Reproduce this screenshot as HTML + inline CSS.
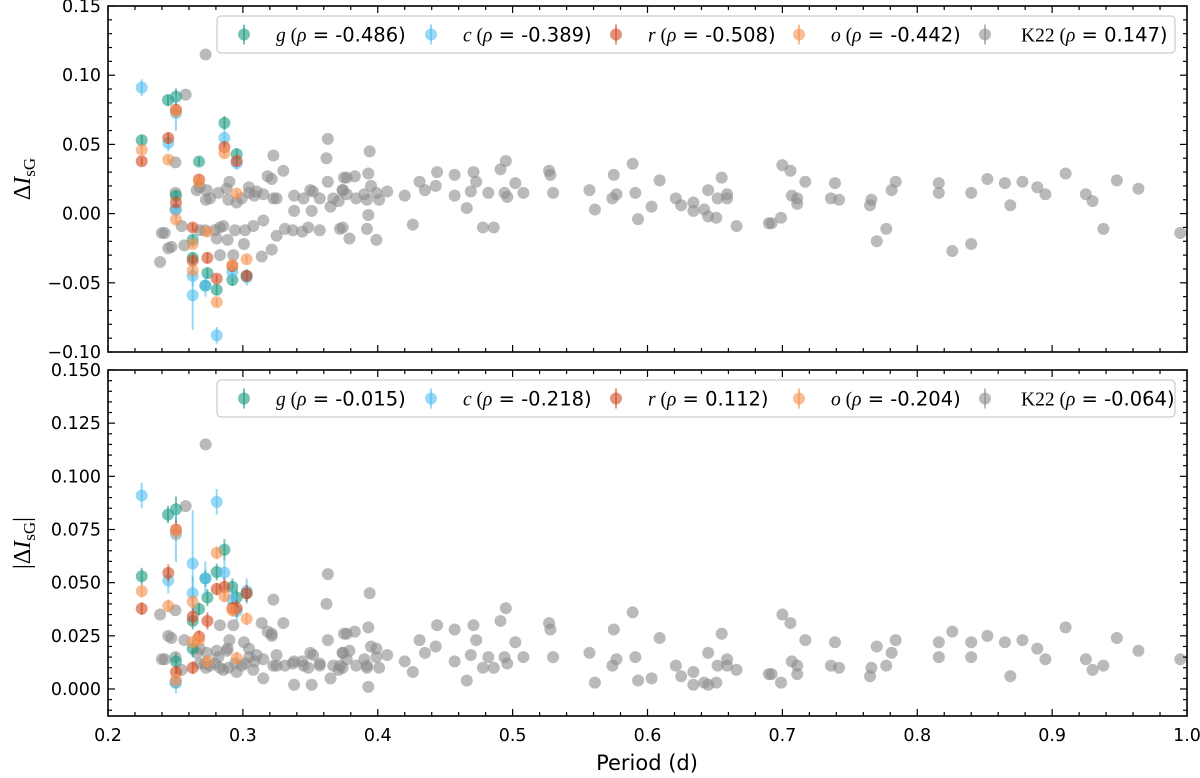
<!DOCTYPE html>
<html><head><meta charset="utf-8"><style>
body{margin:0;background:#fff;}
svg{display:block;font-family:"DejaVu Sans","Liberation Sans",sans-serif;}
</style></head><body>
<svg id="chart" width="1200" height="778"></svg>
<script>
const gP=[0.225,0.2445,0.2504,0.2504,0.2628,0.2628,0.2675,0.2737,0.2722,0.2806,0.2863,0.2922,0.2954,0.3028];
const gV=[0.053,0.082,0.0845,0.013,-0.019,-0.032,0.0376,-0.043,-0.052,-0.055,0.0655,-0.048,0.043,-0.045];
const gE=[0.004,0.004,0.006,0.004,0.004,0.004,0.003,0.004,0.004,0.004,0.005,0.004,0.004,0.004];
const cP=[0.225,0.2447,0.2504,0.2504,0.2628,0.2628,0.2722,0.2806,0.2863,0.2922,0.2954,0.3028];
const cV=[0.091,0.051,0.0727,0.003,-0.045,-0.059,-0.052,-0.088,0.0547,-0.042,0.0366,-0.046];
const cE=[0.006,0.006,0.013,0.005,0.008,0.025,0.008,0.006,0.006,0.005,0.005,0.006];
const rP=[0.225,0.2447,0.2504,0.2504,0.2628,0.2628,0.2675,0.2737,0.2806,0.2863,0.2922,0.2954,0.3028];
const rV=[0.0378,0.0546,0.075,0.008,-0.010,-0.034,0.0246,-0.032,-0.047,0.048,-0.038,0.038,-0.045];
const rE=[0.003,0.004,0.004,0.003,0.003,0.004,0.003,0.004,0.003,0.004,0.003,0.004,0.004];
const oP=[0.225,0.2447,0.2504,0.2504,0.2628,0.2628,0.2675,0.2737,0.2806,0.2863,0.2922,0.2954,0.3028];
const oV=[0.046,0.039,0.074,-0.0043,-0.022,-0.041,0.023,-0.013,-0.064,0.0437,-0.037,0.0145,-0.033];
const oE=[0.003,0.003,0.004,0.003,0.003,0.003,0.003,0.003,0.003,0.003,0.003,0.003,0.003];
const kP=[0.394,0.375,0.383,0.393,0.374,0.377,0.384,0.390,0.392,0.395,0.399,0.401,0.407,0.393,0.374,0.392,0.379,0.399,0.420,0.426,0.431,0.435,0.444,0.443,0.457,0.457,0.471,0.473,0.469,0.466,0.482,0.478,0.486,0.491,0.495,0.494,0.496,0.502,0.508,0.527,0.528,0.530,0.557,0.561,0.575,0.577,0.574,0.589,0.591,0.593,0.603,0.609,0.621,0.625,0.634,0.634,0.642,0.645,0.651,0.645,0.655,0.652,0.659,0.659,0.666,0.690,
0.692,0.699,0.700,0.706,0.707,0.711,0.711,0.717,0.739,0.736,0.742,0.766,0.765,0.770,0.777,0.781,0.784,0.816,0.816,0.826,0.840,0.840,0.852,0.865,0.869,0.878,0.889,0.895,0.910,0.925,0.930,0.938,0.948,0.964,0.995,
0.2724,0.2576,0.250,0.250,0.250,0.240,0.242,0.2447,0.247,0.2386,0.2546,0.2566,0.2658,0.268,0.2732,0.2726,0.2756,0.2818,0.288,0.290,0.2892,0.2954,0.2991,0.3045,0.3047,0.3085,0.3102,0.3151,0.3184,0.3214,0.3226,0.3226,0.325,0.330,0.338,0.338,0.345,0.350,0.351,0.352,0.357,0.363,0.362,0.363,0.365,0.367,0.371,0.374,0.377,
0.268,0.272,0.2793,0.283,0.2855,0.2806,0.2887,0.2942,0.3016,0.3008,0.3077,0.3151,0.2929,0.283,0.314,0.3214,0.325,0.3312,0.337,0.344,0.3485,0.357,0.372];
const kV=[0.045,0.026,0.027,0.029,0.017,0.014,0.011,0.014,0.010,0.020,0.015,0.010,0.016,-0.001,-0.010,-0.011,-0.018,-0.019,0.013,-0.008,0.023,0.017,0.030,0.020,0.028,0.013,0.030,0.023,0.016,0.004,0.015,-0.010,-0.010,0.032,0.038,0.015,0.012,0.022,0.015,0.031,0.028,0.015,0.017,0.003,0.028,0.014,0.011,0.036,0.015,-0.004,0.005,0.024,0.011,0.006,0.008,0.002,0.003,-0.002,-0.003,0.017,0.026,0.011,0.014,0.011,-0.009,-0.007,
-0.007,-0.003,0.035,0.031,0.013,0.011,0.007,0.023,0.022,0.011,0.010,0.010,0.006,-0.020,-0.011,0.017,0.023,0.022,0.015,-0.027,-0.022,0.015,0.025,0.022,0.006,0.023,0.019,0.014,0.029,0.014,0.009,-0.011,0.024,0.018,-0.014,
0.115,0.086,0.037,0.015,0.003,-0.014,-0.014,-0.025,-0.024,-0.035,-0.009,-0.023,0.017,0.019,0.017,0.010,0.011,0.015,0.018,0.023,0.010,0.008,0.011,0.019,0.015,0.013,0.016,0.014,0.027,0.025,0.042,0.011,0.011,0.031,0.013,0.002,0.011,0.017,0.002,0.016,0.011,0.054,0.040,0.023,0.005,0.011,0.009,0.017,0.026,
-0.012,-0.012,-0.012,-0.010,-0.009,-0.018,-0.019,-0.012,-0.012,-0.022,-0.009,-0.005,-0.030,-0.030,-0.031,-0.026,-0.016,-0.011,-0.012,-0.013,-0.010,-0.012,-0.011];
const xTicks=[0.2,0.3,0.4,0.5,0.6,0.7,0.8,0.9,1.0];
const xTickLabels=["0.2","0.3","0.4","0.5","0.6","0.7","0.8","0.9","1.0"];
const yTicksTop=[-0.10,-0.05,0.00,0.05,0.10,0.15];
const yTickLabelsTop=["−0.10","−0.05","0.00","0.05","0.10","0.15"];
const yTicksBot=[0.000,0.025,0.050,0.075,0.100,0.125,0.150];
const yTickLabelsBot=["0.000","0.025","0.050","0.075","0.100","0.125","0.150"];
const rhoTop=["-0.486","-0.389","-0.508","-0.442","0.147"];
const rhoBot=["-0.015","-0.218","0.112","-0.204","-0.064"];

const NS="http://www.w3.org/2000/svg";
const svg=document.getElementById('chart');
function mk(tag,attrs,parent){const e=document.createElementNS(NS,tag);for(const k in attrs)e.setAttribute(k,attrs[k]);(parent||svg).appendChild(e);return e;}
const X0=108,X1=1187;
const xs=p=>X0+(p-0.2)/0.8*(X1-X0);
const panels=[
 {top:6,bot:352,ymin:-0.10,ymax:0.15,ticks:yTicksTop,labels:yTickLabelsTop,minor:0.01,abs:false,rho:rhoTop,name:'top'},
 {top:370,bot:716,ymin:-0.0127,ymax:0.150,ticks:yTicksBot,labels:yTickLabelsBot,minor:0.005,abs:true,rho:rhoBot,name:'bottom'}
];
const series=[
 {n:'g',P:gP,V:gV,E:gE,col:'rgb(26,155,130)'},
 {n:'c',P:cP,V:cV,E:cE,col:'rgb(80,190,240)'},
 {n:'r',P:rP,V:rV,E:rE,col:'rgb(210,75,35)'},
 {n:'o',P:oP,V:oV,E:oE,col:'rgb(245,145,80)'},
];
panels.forEach(pn=>{
 const ys=v=>pn.bot-(v-pn.ymin)/(pn.ymax-pn.ymin)*(pn.bot-pn.top);
 const g=mk('g',{});
 
 
 const kg=mk('g',{},g);
 
 
 kP.forEach((p,i)=>{const v=pn.abs?Math.abs(kV[i]):kV[i];
  const c=mk('circle',{cx:xs(p),cy:ys(v),r:6,fill:'rgb(140,140,140)','fill-opacity':0.6},kg);
  
  });
 series.forEach(s=>{
  const sg=mk('g',{},g);
  
  
  s.P.forEach((p,i)=>{const v=pn.abs?Math.abs(s.V[i]):s.V[i];
   mk('line',{x1:xs(p),x2:xs(p),y1:ys(v-s.E[i]),y2:ys(v+s.E[i]),stroke:s.col,'stroke-width':2,'stroke-opacity':0.6},sg);
   const c=mk('circle',{cx:xs(p),cy:ys(v),r:6,fill:s.col,'fill-opacity':0.6},sg);
   
   });
 });
 mk('rect',{x:X0,y:pn.top,width:X1-X0,height:pn.bot-pn.top,fill:'none',stroke:'#000','stroke-width':1.6},g);
 for(let k=0;k<=40;k++){const p=0.2+k*0.02;const x=xs(p);const major=k%5==0;const L=major?7:4;
  mk('line',{x1:x,x2:x,y1:pn.bot,y2:pn.bot-L,stroke:'#000','stroke-width':1.2},g);
  mk('line',{x1:x,x2:x,y1:pn.top,y2:pn.top+L,stroke:'#000','stroke-width':1.2},g);}
 const nmin=Math.ceil(pn.ymin/pn.minor-1e-6),nmax=Math.floor(pn.ymax/pn.minor+1e-6);
 for(let k=nmin;k<=nmax;k++){const v=k*pn.minor;const y=ys(v);
  const major=pn.ticks.some(t=>Math.abs(t-v)<1e-6);const L=major?7:4;
  mk('line',{x1:X0,x2:X0+L,y1:y,y2:y,stroke:'#000','stroke-width':1.2},g);
  mk('line',{x1:X1,x2:X1-L,y1:y,y2:y,stroke:'#000','stroke-width':1.2},g);}
 pn.ticks.forEach((t,i)=>{const tx=mk('text',{x:X0-7,y:ys(t)+6,'text-anchor':'end','font-size':17.5},g);tx.textContent=pn.labels[i];
  
  });
 const ly=pn.top+10;
 const lg=mk('g',{},g);
 
 
 mk('rect',{x:217,y:ly,width:958,height:37,rx:4,fill:'#fff','fill-opacity':0.85,stroke:'#ccc','stroke-width':1.2},lg);
 const cols=series.map(s=>s.col).concat(['rgb(140,140,140)']);
 const labs=['g','c','r','o','K22'];
 const ex=[244,431,616,799,985];
 labs.forEach((l,i)=>{const cy=ly+18.5;
  const eg=mk('g',{},lg);
  
  
  mk('line',{x1:ex[i],x2:ex[i],y1:cy-10,y2:cy+10,stroke:cols[i],'stroke-width':2,'stroke-opacity':0.6},eg);
  mk('circle',{cx:ex[i],cy:cy,r:6,fill:cols[i],'fill-opacity':0.6},eg);
  const t=mk('text',{x:ex[i]+(l=='K22'?36:32),y:cy+7,'font-size':19.5},eg);
  const a=mk('tspan',{'font-family':'"Liberation Serif",serif','font-style':l=='K22'?'normal':'italic'},t);a.textContent=l;
  const b=mk('tspan',{'font-family':'"Liberation Serif",serif'},t);b.textContent=' (';
  const c=mk('tspan',{'font-family':'"Liberation Serif",serif','font-style':'italic'},t);c.textContent='ρ';
  const d=mk('tspan',{},t);d.textContent=' = '+pn.rho[i]+')';
 });
 const yl=mk('text',{x:0,y:0,transform:`translate(30,${(pn.top+pn.bot)/2}) rotate(-90)`,'text-anchor':'middle','font-size':24,'font-family':'"Liberation Serif",serif'},g);
 
 
 yl.innerHTML=(pn.abs?'|Δ':'Δ')+'<tspan font-style="italic">I</tspan><tspan font-size="17" dy="5">sG</tspan>'+(pn.abs?'<tspan dy="-5">|</tspan>':'');
});
xTicks.forEach((t,i)=>{const tx=mk('text',{x:xs(t),y:741,'text-anchor':'middle','font-size':17.5});tx.textContent=xTickLabels[i];
 
 });
const xt=mk('text',{x:647,y:770,'text-anchor':'middle','font-size':21});xt.textContent='Period (d)';


</script>
</body></html>
